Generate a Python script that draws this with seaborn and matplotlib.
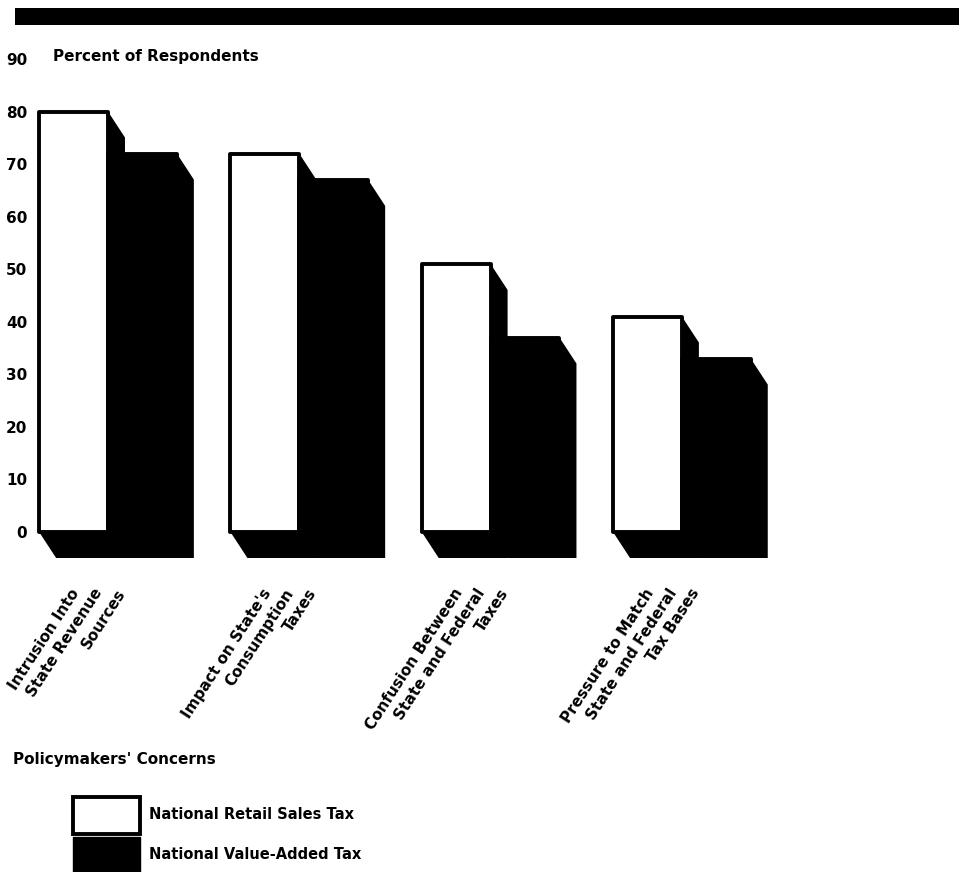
import matplotlib
matplotlib.use("Agg")
import matplotlib.pyplot as plt
from matplotlib.patches import Polygon, Rectangle, Patch
import pandas as pd
import seaborn as sns

# Survey results: share of policymakers citing each concern
concerns = [
    "Intrusion Into\nState Revenue\nSources",
    "Impact on State's\nConsumption\nTaxes",
    "Confusion Between\nState and Federal\nTaxes",
    "Pressure to Match\nState and Federal\nTax Bases",
]
retail_sales_tax = [80, 72, 51, 41]
value_added_tax = [72, 67, 37, 33]
tax_types = ["National Retail Sales Tax", "National Value-Added Tax"]
y_ticks = [0, 10, 20, 30, 40, 50, 60, 70, 80, 90]

df = pd.DataFrame({
    "concern": concerns * 2,
    "percent": retail_sales_tax + value_added_tax,
    "tax": [tax_types[0]] * len(concerns) + [tax_types[1]] * len(concerns),
})

sns.set_style("white")
plt.rcParams["font.family"] = ["DejaVu Sans"]
plt.rcParams["font.weight"] = "bold"
plt.rcParams["text.color"] = "black"
plt.rcParams["xtick.color"] = "black"
plt.rcParams["ytick.color"] = "black"
plt.rcParams["axes.labelcolor"] = "black"

W, H, DPI = 959, 872, 100
fig = plt.figure(figsize=(W / DPI, H / DPI), dpi=DPI)
fig.patch.set_facecolor("white")
ax = fig.add_axes([30 / W, (H - 532) / H, 770 / W, (532 - 59) / H])

sns.barplot(data=df, x="concern", y="percent", hue="tax",
            order=concerns, hue_order=tax_types,
            palette=["white", "black"], saturation=1,
            width=0.72, gap=0, edgecolor="black", linewidth=2.8,
            legend=False, ax=ax)

ax.set_xlim(-0.4077, 3.6174)
ax.set_ylim(0, 90)
ax.set_yticks(y_ticks)
ax.set_xticks(range(len(concerns)))
ax.set_xticklabels([])
ax.set_xlabel("")
ax.set_ylabel("")
ax.tick_params(axis="y", length=0, pad=2, labelsize=11, labelcolor="black")
ax.tick_params(axis="x", length=0)
sns.despine(ax=ax, left=True, bottom=True)

# Drop-shadow extrusion behind every bar (down and to the right)
dx, dy = 17, -26
to_disp = ax.transData.transform
to_data = ax.transData.inverted().transform
for cont in ax.containers:
    for rect in cont:
        x0, w, h = rect.get_x(), rect.get_width(), rect.get_height()
        (px0, py0), (px1, py1) = to_disp([(x0, 0), (x0 + w, h)])
        hexagon = [(px0, py1), (px1, py1), (px1 + dx, py1 + dy),
                   (px1 + dx, py0 + dy), (px0 + dx, py0 + dy), (px0, py0)]
        ax.add_patch(Polygon(to_data(hexagon), closed=True, facecolor="black",
                             edgecolor="none", zorder=0.5, clip_on=False))
        rect.set_clip_on(False)
        rect.set_joinstyle("round")
        rect.set_zorder(1)

# Slanted category labels, one line at a time
for i, label in enumerate(concerns):
    for k, line in enumerate(label.split("\n")):
        ax.annotate(line, xy=(i, 0), xycoords="data",
                    xytext=((-31.5 + 23 * k) * 0.72, -58 * 0.72),
                    textcoords="offset points", rotation=57,
                    rotation_mode="anchor", ha="right", va="center",
                    fontsize=11, fontweight="bold", color="black",
                    annotation_clip=False)

# Header band and titles
fig.patches.append(Rectangle((15 / W, 1 - 25 / H), 1, 17 / H,
                             transform=fig.transFigure, facecolor="black",
                             edgecolor="none", figure=fig))
fig.text(53 / W, 1 - 57 / H, "Percent of Respondents", ha="left", va="center",
         fontsize=11, fontweight="bold", color="black")
fig.text(13 / W, 1 - 759 / H, "Policymakers' Concerns", ha="left", va="center",
         fontsize=11, fontweight="bold", color="black")

handles = [Patch(facecolor="white", edgecolor="black", linewidth=2.8, joinstyle="round"),
           Patch(facecolor="black", edgecolor="black")]
fig.legend(handles, tax_types, loc="upper left",
           bbox_to_anchor=(73 / W, 1 - 797 / H), bbox_transform=fig.transFigure,
           frameon=False, borderpad=0, borderaxespad=0, fontsize=10.5,
           labelcolor="black",
           handlelength=4.6, handleheight=3.5, labelspacing=0.2, handletextpad=0.6)

fig.savefig("out.png", dpi=DPI)
